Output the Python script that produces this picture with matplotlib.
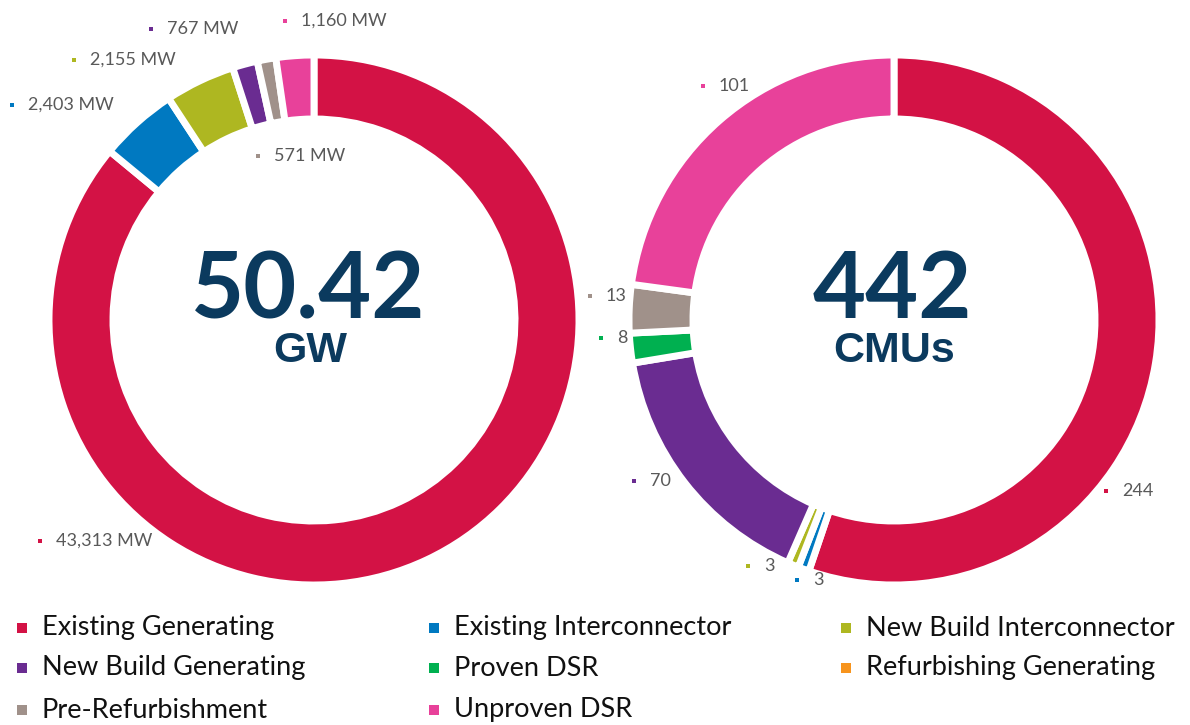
import numpy as np
import matplotlib
matplotlib.use("Agg")
import matplotlib.pyplot as plt

# categories in the order the rings are drawn (clockwise from 12 o'clock)
categories = ["Existing Generating", "Existing Interconnector", "New Build Interconnector",
              "New Build Generating", "Proven DSR", "Refurbishing Generating",
              "Pre-Refurbishment", "Unproven DSR"]
colors = ["#D31245", "#0079C1", "#AEB721", "#6A2C91", "#00B050", "#F7941D",
          "#A0918A", "#E8419A"]

capacity_mw = [43313, 2403, 2155, 767, 0, 0, 571, 1160]
cmu_count = [244, 3, 3, 70, 8, 0, 13, 101]

total_gw = "50.42"
total_cmu = "442"

W, H = 1190, 725
TXT = "#595959"
NAVY = "#0B3A5E"

fig = plt.figure(figsize=(W / 100, H / 100), dpi=100)
ax = fig.add_axes([0, 0, 1, 1])


def py(y):
    # convert a top-down pixel row into axes y
    return H - y


def donut(values, cx, cy, r):
    vals = [v for v in values if v > 0]
    cols = [c for v, c in zip(values, colors) if v > 0]
    ax.pie(vals, colors=cols, startangle=90, counterclock=False,
           center=(cx, py(cy)), radius=r, frame=True,
           wedgeprops=dict(width=64, edgecolor="white", linewidth=5))


donut(capacity_mw, 314, 320, 265)
donut(cmu_count, 894, 320, 265)
ax.set_xlim(0, W)
ax.set_ylim(0, H)
ax.set_aspect("equal")
ax.axis("off")

# centre totals
ax.text(308, py(292), total_gw, ha="center", va="center", fontsize=66,
        fontweight="bold", family="Lato", color=NAVY)
ax.text(310, py(351), "GW", ha="center", va="center", fontsize=31,
        fontweight="bold", family="Liberation Sans", color=NAVY)
ax.text(892, py(292), total_cmu, ha="center", va="center", fontsize=66,
        fontweight="bold", family="Lato", color=NAVY)
ax.text(894, py(351), "CMUs", ha="center", va="center", fontsize=31,
        fontweight="bold", family="Liberation Sans", color=NAVY)

# data label anchors (marker x, y) in pixels, one per non-zero slice
left_label_pos = {0: (40, 541), 1: (12, 105), 2: (74, 60), 3: (151, 29),
                  6: (258, 156), 7: (285, 21)}
right_label_pos = {0: (1106, 491), 1: (797, 580), 2: (748, 566), 3: (634, 481),
                   4: (601, 338), 6: (590, 296), 7: (703, 86)}

for i, (mx, my) in left_label_pos.items():
    ax.scatter(mx, py(my), marker="s", s=6, color=colors[i], linewidths=0)
    ax.text(mx + 16, py(my), f"{capacity_mw[i]:,} MW", ha="left", va="center",
            fontsize=13, family="Lato", color=TXT)

for i, (mx, my) in right_label_pos.items():
    ax.scatter(mx, py(my), marker="s", s=6, color=colors[i], linewidths=0)
    ax.text(mx + 16, py(my), f"{cmu_count[i]:,}", ha="left", va="center",
            fontsize=13, family="Lato", color=TXT)

# legend, three columns, row-major
col_x = [22, 434, 846]
row_y = [628, 668, 710]
for k, (name, c) in enumerate(zip(categories, colors)):
    lx = col_x[k % 3]
    ly = row_y[k // 3]
    ax.scatter(lx, py(ly), marker="s", s=45, color=c, linewidths=0)
    ax.text(lx + 20, py(ly), name, ha="left", va="center", fontsize=19.5,
            family="Lato", color="#111111")

fig.savefig("out.png", dpi=100)
